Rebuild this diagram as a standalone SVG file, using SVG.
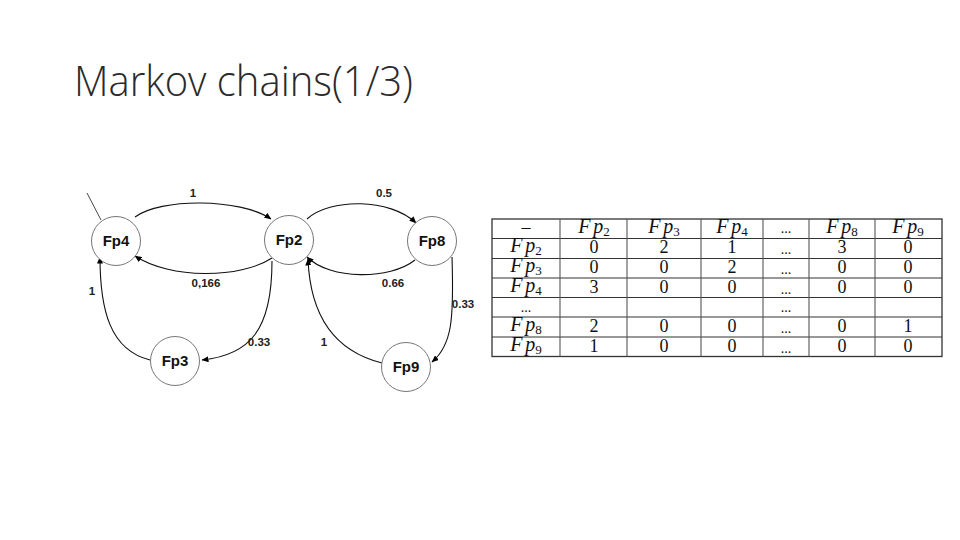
<svg xmlns="http://www.w3.org/2000/svg" width="960" height="540" viewBox="0 0 960 540">
<defs>
<marker id="arr" markerWidth="7" markerHeight="6" refX="6.5" refY="3" orient="auto" markerUnits="userSpaceOnUse">
<path d="M0,0 L7,3 L0,6 Z" fill="#000"/>
</marker>
<style>
.title{font-family:"Open Sans","Liberation Sans",sans-serif;font-weight:300;font-size:42px;fill:#2a2a2a}
.node circle{fill:#fff;stroke:#666;stroke-width:0.9}
.node text{font-family:"Liberation Sans",Arial,sans-serif;font-weight:bold;font-size:15px;text-anchor:middle;fill:#111}
.edge{fill:none;stroke:#111;stroke-width:1.1;marker-end:url(#arr)}
.elab{font-family:"Liberation Sans",Arial,sans-serif;font-weight:bold;font-size:11.5px;text-anchor:middle;fill:#222}
.hl{stroke:#333;stroke-width:1.2}
.vl{stroke:#555;stroke-width:1.1}
.m{font-family:"Liberation Serif","Times New Roman",serif;font-style:italic;font-size:20px;text-anchor:middle;fill:#111}
.m tspan.s{font-style:normal;font-size:13px}
.n{font-family:"Liberation Serif","Times New Roman",serif;font-size:18px;text-anchor:middle;fill:#111}
.d{font-family:"Liberation Serif","Times New Roman",serif;font-size:14px;text-anchor:middle;fill:#111}
</style>
</defs>
<rect width="960" height="540" fill="#fff"/>
<text class="title" x="74" y="96" textLength="339" lengthAdjust="spacingAndGlyphs">Markov chains(1/3)</text>

<g id="connectors">
<line x1="87" y1="193" x2="101" y2="220" stroke="#333" stroke-width="0.9"/>
<path class="edge" d="M135,217 C160,198 240,198 271,219"/>
<path class="edge" d="M272,258 C240,279 170,279 135,256"/>
<path class="edge" d="M307,219 C330,198 390,198 416,223"/>
<path class="edge" d="M415,260 C390,280 330,280 307,257"/>
<path class="edge" d="M272,261 C272,330 250,355 202,360"/>
<path class="edge" d="M150,360 C110,350 100,310 100,257"/>
<path class="edge" d="M452,257 C454,320 452,345 432,362"/>
<path class="edge" d="M382,363 C330,350 310,310 308,259"/>
<text class="elab" x="193" y="197">1</text>
<text class="elab" x="384" y="197">0.5</text>
<text class="elab" x="206" y="287">0,166</text>
<text class="elab" x="393" y="287">0.66</text>
<text class="elab" x="92" y="295">1</text>
<text class="elab" x="463" y="308">0.33</text>
<text class="elab" x="259" y="346">0.33</text>
<text class="elab" x="324" y="346">1</text>
</g>

<g id="Fp4" class="node"><circle cx="116" cy="241" r="24.5"/><text x="116" y="246">Fp4</text></g>
<g id="Fp2" class="node"><circle cx="289" cy="240" r="24.5"/><text x="289" y="245">Fp2</text></g>
<g id="Fp8" class="node"><circle cx="432" cy="241" r="24.5"/><text x="432" y="246">Fp8</text></g>
<g id="Fp3" class="node"><circle cx="175" cy="361" r="24.5"/><text x="175" y="366">Fp3</text></g>
<g id="Fp9" class="node"><circle cx="406" cy="367" r="24.5"/><text x="406" y="372">Fp9</text></g>

<g id="table">
<rect x="492" y="219" width="450" height="137.5" fill="none" stroke="#333" stroke-width="1.3"/>
<line class="hl" x1="492" y1="238.5" x2="942" y2="238.5"/>
<line class="hl" x1="492" y1="258.5" x2="942" y2="258.5"/>
<line class="hl" x1="492" y1="278" x2="942" y2="278" stroke="#777" stroke-width="1.8"/>
<line class="hl" x1="492" y1="297.5" x2="942" y2="297.5"/>
<line class="hl" x1="492" y1="317" x2="942" y2="317"/>
<line class="hl" x1="492" y1="337" x2="942" y2="337"/>
<line class="vl" x1="560" y1="219" x2="560" y2="356.5"/>
<line class="vl" x1="627" y1="219" x2="627" y2="356.5"/>
<line class="vl" x1="701" y1="219" x2="701" y2="356.5"/>
<line class="vl" x1="763" y1="219" x2="763" y2="356.5"/>
<line class="vl" x1="809" y1="219" x2="809" y2="356.5"/>
<line class="vl" x1="875" y1="219" x2="875" y2="356.5"/>

<text class="n" x="526" y="233">–</text>
<text class="m" x="594" y="233">F<tspan dx="3">p</tspan><tspan class="s" dy="3">2</tspan></text>
<text class="m" x="664" y="233">F<tspan dx="3">p</tspan><tspan class="s" dy="3">3</tspan></text>
<text class="m" x="732" y="233">F<tspan dx="3">p</tspan><tspan class="s" dy="3">4</tspan></text>
<text class="d" x="786" y="233">...</text>
<text class="m" x="842" y="233">F<tspan dx="3">p</tspan><tspan class="s" dy="3">8</tspan></text>
<text class="m" x="908" y="233">F<tspan dx="3">p</tspan><tspan class="s" dy="3">9</tspan></text>

<text class="m" x="526" y="252">F<tspan dx="3">p</tspan><tspan class="s" dy="3">2</tspan></text>
<text class="n" x="594" y="253">0</text><text class="n" x="664" y="253">2</text><text class="n" x="732" y="253">1</text><text class="d" x="786" y="254">...</text><text class="n" x="842" y="253">3</text><text class="n" x="908" y="253">0</text>

<text class="m" x="526" y="272">F<tspan dx="3">p</tspan><tspan class="s" dy="3">3</tspan></text>
<text class="n" x="594" y="273">0</text><text class="n" x="664" y="273">0</text><text class="n" x="732" y="273">2</text><text class="d" x="786" y="274">...</text><text class="n" x="842" y="273">0</text><text class="n" x="908" y="273">0</text>

<text class="m" x="526" y="292">F<tspan dx="3">p</tspan><tspan class="s" dy="3">4</tspan></text>
<text class="n" x="594" y="293">3</text><text class="n" x="664" y="293">0</text><text class="n" x="732" y="293">0</text><text class="d" x="786" y="294">...</text><text class="n" x="842" y="293">0</text><text class="n" x="908" y="293">0</text>

<text class="d" x="526" y="312">...</text><text class="d" x="786" y="312">...</text>

<text class="m" x="526" y="331">F<tspan dx="3">p</tspan><tspan class="s" dy="3">8</tspan></text>
<text class="n" x="594" y="332">2</text><text class="n" x="664" y="332">0</text><text class="n" x="732" y="332">0</text><text class="d" x="786" y="333">...</text><text class="n" x="842" y="332">0</text><text class="n" x="908" y="332">1</text>

<text class="m" x="526" y="351">F<tspan dx="3">p</tspan><tspan class="s" dy="3">9</tspan></text>
<text class="n" x="594" y="352">1</text><text class="n" x="664" y="352">0</text><text class="n" x="732" y="352">0</text><text class="d" x="786" y="353">...</text><text class="n" x="842" y="352">0</text><text class="n" x="908" y="352">0</text>
</g>
</svg>
